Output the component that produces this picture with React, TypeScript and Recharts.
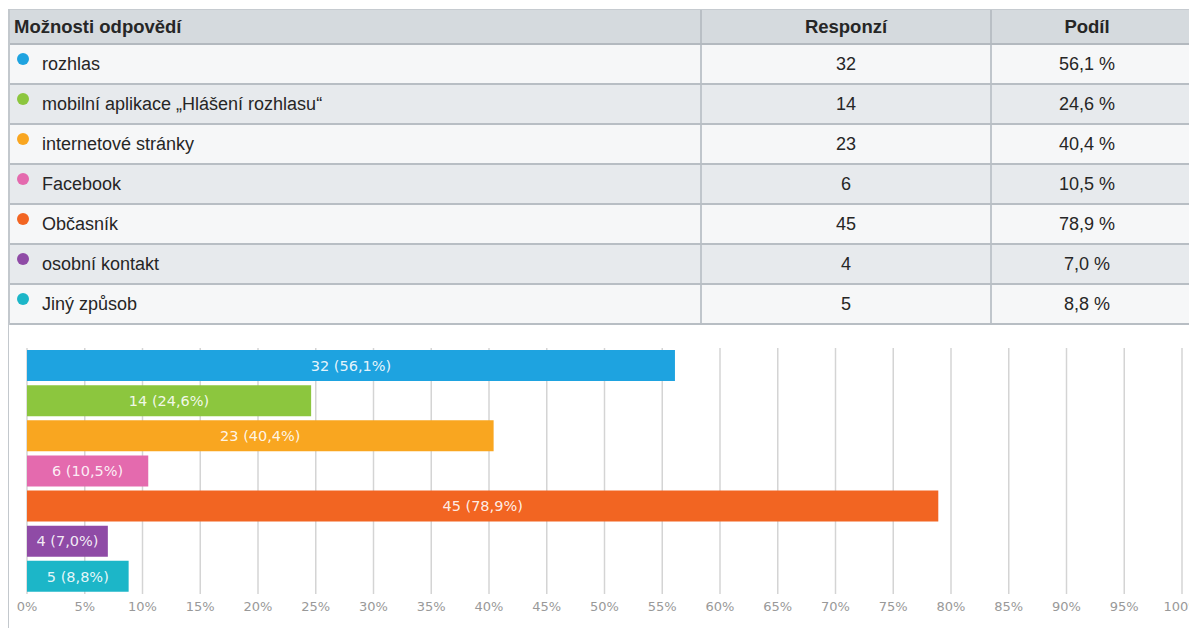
import React from "react";
import {
  BarChart,
  Bar,
  XAxis,
  YAxis,
  CartesianGrid,
  Cell,
  LabelList,
} from "recharts";

const options = [
  "rozhlas",
  "mobilní aplikace „Hlášení rozhlasu“",
  "internetové stránky",
  "Facebook",
  "Občasník",
  "osobní kontakt",
  "Jiný způsob",
];

const responses = [32, 14, 23, 6, 45, 4, 5];

const shares = [56.1, 24.6, 40.4, 10.5, 78.9, 7.0, 8.8];

const COLORS = [
  "#1ea3e0", // rozhlas
  "#8cc63e", // mobilni aplikace
  "#f9a620", // internet
  "#e46aae", // facebook
  "#f26522", // obcasnik
  "#8f4ba6", // osobni kontakt
  "#1cb6c8", // jiny
];

const xTicks = [0, 5, 10, 15, 20, 25, 30, 35, 40, 45, 50, 55, 60, 65, 70, 75, 80, 85, 90, 95, 100];

const fmt = (v: number) => v.toFixed(1).replace(".", ",");

const data = options.map((name, i) => ({
  name,
  share: shares[i],
  label: `${responses[i]} (${fmt(shares[i])}%)`,
}));

const COL1 = 692;
const COL2 = 290;
const COL3 = 210;

const cellBase: React.CSSProperties = {
  boxSizing: "border-box",
  height: "100%",
  display: "flex",
  alignItems: "center",
};

export default function App() {
  return (
    <div
      style={{
        width: 1189,
        overflow: "hidden",
        fontFamily: "'Liberation Sans', Arial, sans-serif",
        color: "#262626",
      }}
    >
      {/* table */}
      <div style={{ width: COL1 + COL2 + COL3, borderLeft: "2px solid #c3c8cd", marginTop: 1 }}>
        <div
          style={{
            height: 36,
            boxSizing: "border-box",
            display: "flex",
            background: "#d5dade",
            borderTop: "1px solid #c6cbd0",
            borderBottom: "2px solid #b3b9bf",
            fontWeight: "bold",
            fontSize: 18.5,
          }}
        >
          <div style={{ ...cellBase, width: COL1 - 2, paddingLeft: 4 }}>Možnosti odpovědí</div>
          <div style={{ ...cellBase, width: COL2, justifyContent: "center", borderLeft: "2px solid #b9bfc5" }}>
            Responzí
          </div>
          <div
            style={{
              ...cellBase,
              width: COL3,
              justifyContent: "center",
              paddingRight: 18,
              borderLeft: "2px solid #b9bfc5",
            }}
          >
            Podíl
          </div>
        </div>
        {options.map((name, i) => (
          <div
            key={name}
            style={{
              height: 40,
              boxSizing: "border-box",
              display: "flex",
              background: i % 2 === 0 ? "#f6f7f8" : "#e7eaed",
              borderBottom: "2px solid #b8bec4",
              fontSize: 18,
            }}
          >
            <div style={{ ...cellBase, width: COL1 - 2, paddingLeft: 8, position: "relative" }}>
              <span
                style={{
                  width: 12,
                  height: 12,
                  borderRadius: "50%",
                  background: COLORS[i],
                  display: "inline-block",
                  position: "absolute",
                  left: 7,
                  top: 8,
                }}
              />
              <span style={{ marginLeft: 24 }}>{name}</span>
            </div>
            <div style={{ ...cellBase, width: COL2, justifyContent: "center", borderLeft: "2px solid #c0c6cc" }}>
              {responses[i]}
            </div>
            <div
              style={{
                ...cellBase,
                width: COL3,
                justifyContent: "center",
                paddingRight: 18,
                borderLeft: "2px solid #c0c6cc",
              }}
            >
              {fmt(shares[i])} %
            </div>
          </div>
        ))}
      </div>

      {/* chart */}
      <div style={{ width: 1189, height: 303, borderLeft: "1px solid #c3c8cd", boxSizing: "border-box" }}>
        <BarChart
          width={1188}
          height={303}
          data={data}
          layout="vertical"
          barCategoryGap={2}
          margin={{ top: 23, right: 15, bottom: 0, left: 18 }}
        >
          <CartesianGrid horizontal={false} stroke="#d4d4d4" strokeWidth={1.5} />
          <XAxis
            type="number"
            domain={[0, 100]}
            ticks={xTicks}
            tickFormatter={(v) => `${v}%`}
            axisLine={false}
            tickLine={false}
            height={34}
            interval={0}
            tick={{ fontFamily: "'DejaVu Sans', sans-serif", fontSize: 13, fill: "#999999" }}
          />
          <YAxis
            type="category"
            dataKey="name"
            width={0}
            tick={false}
            axisLine={false}
            tickLine={{ stroke: "#d0d0d0" }}
            tickSize={4}
          />
          <Bar dataKey="share" isAnimationActive={false}>
            {data.map((_, i) => (
              <Cell key={`cell-${i}`} fill={COLORS[i]} />
            ))}
            <LabelList
              dataKey="label"
              position="center"
              fill="#ffffff"
              fillOpacity={0.9}
              style={{ fontFamily: "'DejaVu Sans', sans-serif", fontSize: 14.5 }}
            />
          </Bar>
        </BarChart>
      </div>
    </div>
  );
}
